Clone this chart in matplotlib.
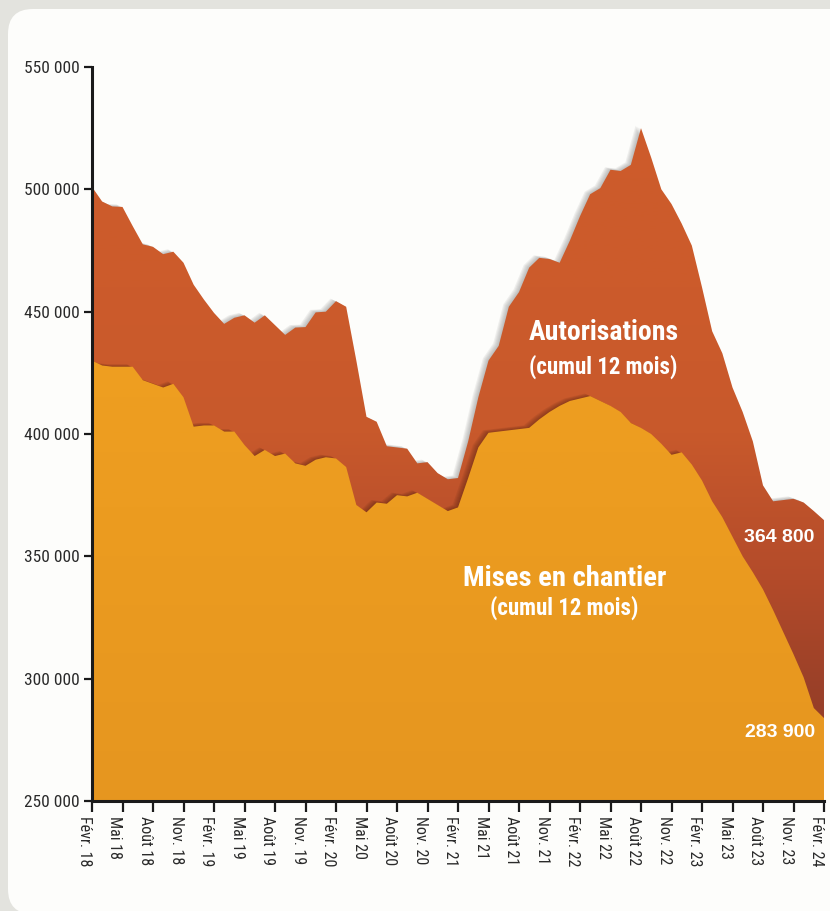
import numpy as np
import matplotlib
matplotlib.use("Agg")
import matplotlib.pyplot as plt
from matplotlib import font_manager
from matplotlib.patches import FancyBboxPatch
from matplotlib.colors import LinearSegmentedColormap
import matplotlib.transforms as mtransforms

# ---- data (logements, cumul 12 mois, en milliers) ----
autorisations = [501, 495, 493, 492.8, 485, 477.5, 476.5, 473.5, 474.5, 470,
                 461, 455, 449.5, 445, 447.5, 448.5, 445.5, 448.5, 444.5, 440.5,
                 443.5, 443.7, 449.7, 450, 454.3, 452,
                 430, 407, 405, 395, 394.5, 394, 388, 388.5, 384, 381.5,
                 382, 397, 415, 430, 436, 452, 458, 468, 472, 471.5,
                 470, 479, 489, 498, 500.5, 508, 507.5, 510, 525, 513,
                 500, 494, 486, 477, 460, 442, 433, 419, 409, 397,
                 379, 372.5, 373, 373.5, 372, 368.5, 364.8]
mises_en_chantier = [430, 428, 427.5, 427.5, 427.5, 422, 420.5, 419, 420.5, 415,
                     403, 403.5, 403.5, 401, 401, 395.5, 391, 393.5, 391, 392,
                     388, 387, 389.5, 390.5, 390, 386.5,
                     371, 368, 372, 371.5, 375, 374.5, 376, 373.5, 371, 368.5,
                     370, 382, 394.5, 400.5, 401, 401.5, 402, 402.5, 406, 409,
                     411.5, 413.5, 414.5, 415.5, 413.5, 411.5, 409, 404.5, 402.5, 400,
                     396, 391.5, 392.5, 387.5, 381, 372.5, 366, 358, 350, 343.5,
                     336.5, 328, 319, 310, 300.5, 288, 283.9]
tick_labels = ["Févr. 18", "Mai 18", "Août 18", "Nov. 18",
               "Févr. 19", "Mai 19", "Août 19", "Nov. 19",
               "Févr. 20", "Mai 20", "Août 20", "Nov. 20",
               "Févr. 21", "Mai 21", "Août 21", "Nov. 21",
               "Févr. 22", "Mai 22", "Août 22", "Nov. 22",
               "Févr. 23", "Mai 23", "Août 23", "Nov. 23", "Févr. 24"]
y_ticks = [250000, 300000, 350000, 400000, 450000, 500000, 550000]
last_auto_label = "364 800"
last_mises_label = "283 900"

auto = np.array(autorisations) * 1000
mises = np.array(mises_en_chantier) * 1000
x = np.arange(len(auto))

# ---- fonts ----
names = {f.name for f in font_manager.fontManager.ttflist}
narrow = None
for cand in ["Liberation Sans Narrow", "DejaVu Sans Condensed", "Roboto Condensed",
             "Open Sans Condensed", "Liberation Sans"]:
    if cand in names:
        narrow = cand
        break
if narrow is None:
    narrow = "DejaVu Sans"
plain = "Liberation Sans" if "Liberation Sans" in names else "DejaVu Sans"

W, H = 830, 911
fig = plt.figure(figsize=(W / 100, H / 100), dpi=100)
fig.patch.set_facecolor("#E3E3DE")

# white rounded panel
panel = FancyBboxPatch((8 / W, -3 / H), 860 / W, (H - 9 + 3) / H,
                       boxstyle="round,pad=0,rounding_size=0.03",
                       transform=fig.transFigure, facecolor="#FDFDFB",
                       edgecolor="none", zorder=-10, mutation_aspect=W / H)
fig.patches.append(panel)

ax = fig.add_axes([92 / W, 110 / H, (824 - 92) / W, (801 - 67) / H])
ax.set_zorder(1)
ax.patch.set_visible(False)
ax.set_xlim(0, len(auto) - 1)
ax.set_ylim(250000, 550000)

base = 250000


def shadow(yvals, color, steps, dx, dy, alpha, z):
    for k in range(1, steps + 1):
        off = mtransforms.offset_copy(ax.transData, fig=fig,
                                      x=-dx * k / steps, y=dy * k / steps,
                                      units="dots")
        ax.fill_between(x, base, yvals, color=color, alpha=alpha,
                        linewidth=0, transform=off, zorder=z)


def gradient_fill(yvals, stops, z):
    poly = ax.fill_between(x, base, yvals, color="none", linewidth=0, zorder=z)
    cmap = LinearSegmentedColormap.from_list("g", stops)
    grad = np.linspace(0, 1, 256).reshape(-1, 1)
    im = ax.imshow(grad, extent=[0, len(auto) - 1, 250000, 550000],
                   origin="lower", aspect="auto", cmap=cmap, zorder=z)
    im.set_clip_path(poly.get_paths()[0], transform=ax.transData)


# autorisations: soft shadow then gradient area
shadow(auto, "#7f7f7f", 6, 6, 3, 0.11, 1)
gradient_fill(auto, [(0.0, "#8A3724"), (0.15, "#9A4028"), (0.30, "#B34B2A"),
                     (0.50, "#C8592C"), (0.70, "#CC5B2B"), (1.0, "#CE5C2B")], 2)

# mises en chantier: dark shadow onto the red area, then gradient area
shadow(mises, "#5A2412", 6, 6, 3, 0.11, 3)
gradient_fill(mises, [(0.0, "#E6961F"), (0.4, "#EC9C20"), (0.7, "#F0A020"),
                      (1.0, "#F2A21F")], 4)

# axes styling
for s in ["top", "right"]:
    ax.spines[s].set_visible(False)
for s in ["left", "bottom"]:
    ax.spines[s].set_linewidth(2.2)
    ax.spines[s].set_color("#1a1a1a")
    ax.spines[s].set_zorder(6)

ax.set_yticks(y_ticks)
ax.set_yticklabels([f"{v:,}".replace(",", " ") for v in y_ticks],
                   fontfamily=narrow, fontsize=12.5, color="#2a2a2a")
ax.set_xticks(np.arange(0, len(auto), 3))
ax.set_xticklabels(tick_labels, rotation=-90, fontfamily=narrow, fontsize=11.5,
                   color="#2a2a2a", va="top", ha="right")
# month labels sit just left of their tick, glyph tops against it
shift = mtransforms.ScaledTranslation(2 / 100, 0, fig.dpi_scale_trans)
for lbl in ax.get_xticklabels():
    lbl.set_transform(lbl.get_transform() + shift)
ax.tick_params(axis="y", direction="out", length=6, width=1.6, pad=3, color="#1a1a1a")
ax.tick_params(axis="x", direction="out", length=8, width=1.6, pad=3, color="#1a1a1a")

# area labels
ax.text(50.3, 441300, "Autorisations", ha="center", va="center", color="white",
        fontfamily=narrow, fontweight="bold", fontsize=20, zorder=7)
ax.text(50.3, 427400, "(cumul 12 mois)", ha="center", va="center", color="white",
        fontfamily=narrow, fontweight="bold", fontsize=16.5, zorder=7)
ax.text(46.5, 341100, "Mises en chantier", ha="center", va="center", color="white",
        fontfamily=narrow, fontweight="bold", fontsize=20.5, zorder=7)
ax.text(46.4, 328900, "(cumul 12 mois)", ha="center", va="center", color="white",
        fontfamily=narrow, fontweight="bold", fontsize=16.5, zorder=7)

# end values
ax.text(71.1, 357900, last_auto_label, ha="right", va="center", color="white",
        fontfamily=plain, fontweight="bold", fontsize=14, zorder=7)
ax.text(71.1, 277800, last_mises_label, ha="right", va="center", color="white",
        fontfamily=plain, fontweight="bold", fontsize=14, zorder=7)

fig.savefig("out.png", dpi=100, facecolor=fig.get_facecolor())
